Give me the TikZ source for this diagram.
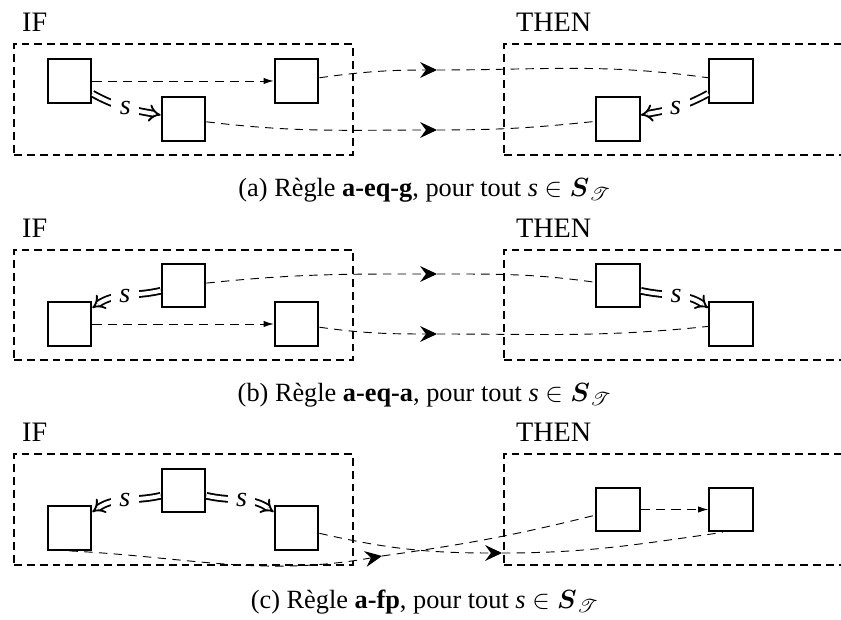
\documentclass[tikz,border=0pt]{standalone}
\usepackage{amsmath}
\usepackage{amssymb}
\usepackage{mathrsfs}
\usepackage{fontspec}
\setmainfont{Liberation Serif}
\usetikzlibrary{arrows.meta,positioning}

\begin{document}
\begin{tikzpicture}[
    x=0.38pt, y=0.38pt,
    frame/.style={draw, thick, dash pattern=on 3pt off 1.9pt, minimum width=128.9pt, minimum height=42.1pt, inner sep=0pt},
    cell/.style={draw, thick, minimum size=16.6pt, inner sep=0pt},
    tag/.style={inner sep=3.33pt, font=\fontsize{10.7}{12}\selectfont},
    flow/.style={line width=0.35pt, dash pattern=on 3.5pt off 2.3pt, -{Latex[length=3.8pt, width=2.4pt]}},
    link/.style={line width=0.35pt, dash pattern=on 3.2pt off 2.4pt},
    hop/.style={link, -{Stealth[length=6.4pt, width=6pt, inset=2.2pt]}},
    eqv/.style={double, line width=0.7pt, double distance=1.5pt, -{Implies}},
    lbl/.style={fill=white, inner sep=3.2pt, font=\fontsize{10.7}{12}\selectfont\itshape},
    capt/.style={anchor=base}
]
    \useasboundingbox (0,0) rectangle (841,-620);
    \clip (0,0) rectangle (841,-620);

    \node [frame] (ifa) at (183.5,-99.5) {};
    \node [frame] (tha) at (673.5,-99.5) {};
    \node [tag, above right=0.8pt and 0pt of ifa.north west] (ifla) {IF};
    \node [tag, above right=0.8pt and 1.5pt of tha.north west] (thla) {THEN};
    \node [cell] (a1) at (69.5,-81) {};
    \node [cell] (a2) at (296.5,-81) {};
    \node [cell] (a3) at (183.5,-119) {};
    \node [cell] (a4) at (731,-81) {};
    \node [cell] (a5) at (618,-119) {};
    \coordinate (ma1) at (437,-70);
    \coordinate (ma2) at (437,-130);
    \draw [flow] (a1) -- (a2);
    \draw [eqv] (a1) to[out=-29, in=170] node[lbl] {s} (a3);
    \draw [eqv] (a4) to[out=209, in=10] node[lbl] {s} (a5);
    \draw [hop] (a2) to[out=8, in=180] (ma1);
    \draw [link] (ma1) to[out=0, in=172] (a4);
    \draw [hop] (a3) to[out=-7, in=180] (ma2);
    \draw [link] (ma2) to[out=0, in=186] (a5);
    \node [capt] (capa) at (425,-197) {(a) Règle \textbf{a-eq-g}, pour tout \textit{s} $\in \boldsymbol{S}_{\mathscr{T}}$};

    \node [frame] (ifb) at (183.5,-305) {};
    \node [frame] (thb) at (673.5,-305) {};
    \node [tag, above right=0.8pt and 0pt of ifb.north west] (iflb) {IF};
    \node [tag, above right=0.8pt and 1.5pt of thb.north west] (thlb) {THEN};
    \node [cell] (b1) at (183.5,-285.5) {};
    \node [cell] (b2) at (69.5,-324) {};
    \node [cell] (b3) at (296.5,-324) {};
    \node [cell] (b4) at (618,-285.5) {};
    \node [cell] (b5) at (731,-324) {};
    \coordinate (mb1) at (437,-274);
    \coordinate (mb2) at (437,-334);
    \draw [flow] (b2) -- (b3);
    \draw [eqv] (b1) to[out=193, in=35] node[lbl] {s} (b2);
    \draw [eqv] (b4) to[out=-13, in=145] node[lbl] {s} (b5);
    \draw [hop] (b1) to[out=6, in=180] (mb1);
    \draw [link] (mb1) to[out=0, in=172] (b4);
    \draw [hop] (b3) to[out=-8, in=180] (mb2);
    \draw [link] (mb2) to[out=0, in=186] (b5);
    \node [capt] (capb) at (425,-402) {(b) Règle \textbf{a-eq-a}, pour tout \textit{s} $\in \boldsymbol{S}_{\mathscr{T}}$};

    \node [frame] (ifc) at (183.5,-509.5) {};
    \node [frame] (thc) at (673.5,-509.5) {};
    \node [tag, above right=0.8pt and 0pt of ifc.north west] (iflc) {IF};
    \node [tag, above right=0.8pt and 1.5pt of thc.north west] (thlc) {THEN};
    \node [cell] (c1) at (183.5,-490.5) {};
    \node [cell] (c2) at (69.5,-528) {};
    \node [cell] (c3) at (296.5,-528) {};
    \node [cell] (c4) at (618,-509.5) {};
    \node [cell] (c5) at (731,-509.5) {};
    \coordinate (mc1) at (382,-556);
    \coordinate (mc2) at (502,-553);
    \draw [flow] (c4) -- (c5);
    \draw [eqv] (c1) to[out=193, in=35] node[lbl] {s} (c2);
    \draw [eqv] (c1) to[out=-13, in=145] node[lbl] {s} (c3);
    \draw [hop] (c2.south) to[out=-3, in=190] (mc1);
    \draw [link] (mc1) to[out=8, in=194] (c4);
    \draw [hop] (c3) to[out=-13, in=180] (mc2);
    \draw [link] (mc2) to[out=0, in=188] (c5.250);
    \node [capt] (capc) at (425,-609) {(c) Règle \textbf{a-fp}, pour tout \textit{s} $\in \boldsymbol{S}_{\mathscr{T}}$};
\end{tikzpicture}
\end{document}
